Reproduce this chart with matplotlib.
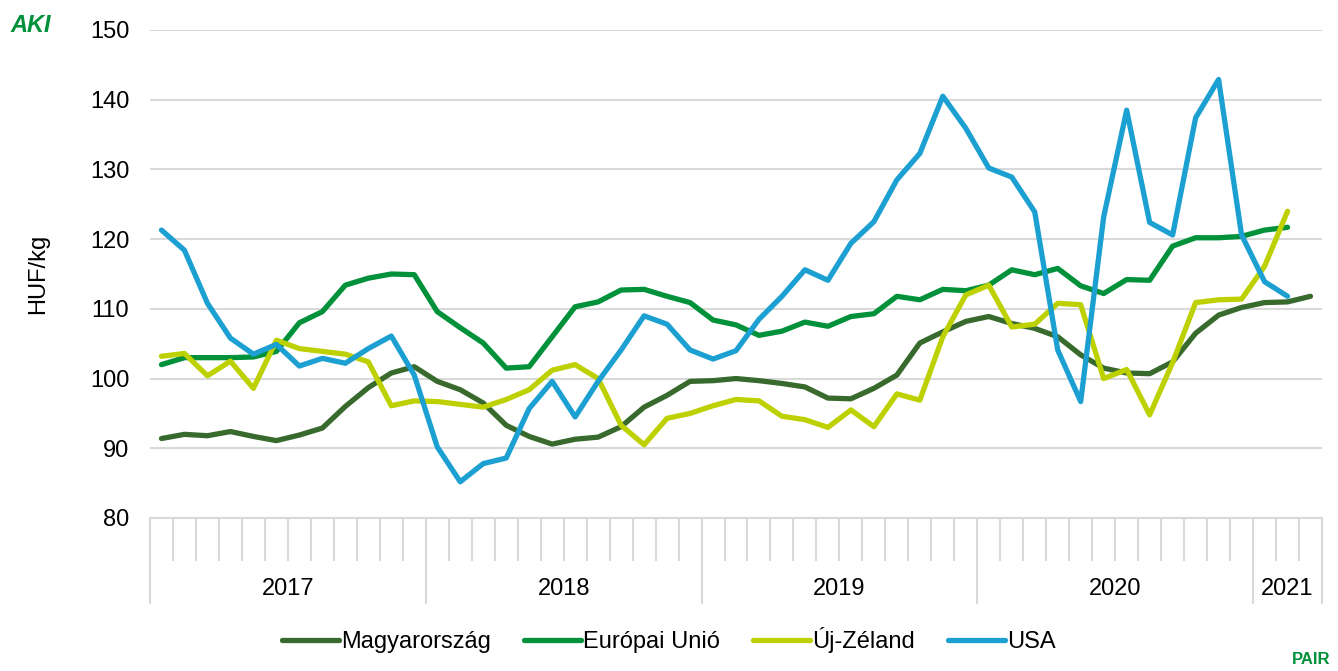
import matplotlib
matplotlib.use("Agg")
import matplotlib.pyplot as plt
import matplotlib.transforms as mtransforms

plt.rcParams['font.family'] = ['Liberation Sans', 'DejaVu Sans']

years = ["2017", "2018", "2019", "2020", "2021"]
months_per_year = [12, 12, 12, 12, 3]

magyarorszag = [91.4, 92.0, 91.8, 92.4, 91.7, 91.1, 91.9, 92.9, 96.0, 98.7,
                100.8, 101.7, 99.6, 98.4, 96.5, 93.3, 91.7, 90.6, 91.3, 91.6,
                93.1, 95.9, 97.6, 99.6, 99.7, 100.0, 99.7, 99.3, 98.8, 97.2,
                97.1, 98.6, 100.5, 105.1, 106.7, 108.2, 108.9, 107.9, 107.2, 106.0,
                103.4, 101.5, 100.8, 100.7, 102.4, 106.5, 109.1, 110.2, 110.9, 111.0,
                111.8]
europai_unio = [102.0, 103.0, 103.0, 103.0, 103.1, 103.9, 108.0, 109.6, 113.4, 114.4,
                115.0, 114.9, 109.6, 107.3, 105.1, 101.5, 101.7, 106.0, 110.3, 111.0,
                112.7, 112.8, 111.8, 110.9, 108.4, 107.7, 106.2, 106.8, 108.1, 107.5,
                108.9, 109.3, 111.8, 111.3, 112.8, 112.6, 113.4, 115.6, 114.9, 115.8,
                113.3, 112.2, 114.2, 114.1, 119.0, 120.2, 120.2, 120.4, 121.3, 121.7]
uj_zeland = [103.2, 103.6, 100.4, 102.5, 98.6, 105.5, 104.3, 103.9, 103.5, 102.4,
             96.1, 96.8, 96.7, 96.3, 95.9, 97.0, 98.4, 101.2, 102.0, 100.0,
             93.3, 90.5, 94.3, 95.0, 96.1, 97.0, 96.8, 94.6, 94.1, 93.0,
             95.5, 93.1, 97.8, 96.9, 106.0, 112.0, 113.4, 107.4, 107.8, 110.8,
             110.6, 100.0, 101.3, 94.8, 102.3, 110.9, 111.3, 111.4, 116.1, 124.0]
usa = [121.3, 118.4, 110.8, 105.8, 103.5, 104.9, 101.8, 102.9, 102.2, 104.3,
       106.1, 100.5, 90.2, 85.2, 87.8, 88.6, 95.7, 99.6, 94.5, 99.6,
       104.1, 109.0, 107.8, 104.1, 102.8, 104.0, 108.5, 111.8, 115.6, 114.1,
       119.4, 122.5, 128.5, 132.3, 140.5, 135.9, 130.2, 128.9, 123.9, 104.1,
       96.7, 123.2, 138.5, 122.4, 120.6, 137.4, 142.9, 120.6, 113.9, 111.8]

series = [("Magyarország", magyarorszag, "#386A2D"),
          ("Európai Unió", europai_unio, "#00913A"),
          ("Új-Zéland", uj_zeland, "#BDD000"),
          ("USA", usa, "#1C9FD1")]

W, H = 1338, 671
fig = plt.figure(figsize=(W / 100, H / 100), dpi=100)
ax = fig.add_axes([150 / W, 1 - 518 / H, (1322 - 150) / W, (518 - 30) / H])

n_months = sum(months_per_year)
for name, vals, col in series:
    xs = [i + 0.5 for i in range(len(vals))]
    ax.plot(xs, vals, color=col, lw=3.8, label=name, solid_capstyle='round',
            solid_joinstyle='round')

FS = 17
ax.set_xlim(0, n_months)
ax.set_ylim(80, 150)
ax.set_yticks(range(80, 151, 10))
ax.tick_params(axis='y', length=0, labelsize=FS, pad=15, colors='#000000')
ax.grid(axis='y', color='#D9D9D9', lw=1.5)
ax.set_axisbelow(True)
for s in ['top', 'right', 'left']:
    ax.spines[s].set_visible(False)
ax.spines['bottom'].set_color('#D9D9D9')
ax.spines['bottom'].set_linewidth(1.5)

# month ticks and year boundaries
boundaries = [0]
for m in months_per_year:
    boundaries.append(boundaries[-1] + m)
ax.set_xticks(boundaries)
ax.set_xticklabels([])
ax.set_xticks(range(0, n_months + 1), minor=True)
ax.tick_params(axis='x', which='major', length=62, width=1.5, color='#D9D9D9')
ax.tick_params(axis='x', which='minor', length=31, width=1.5, color='#D9D9D9')

trans = mtransforms.blended_transform_factory(ax.transData, ax.transAxes)
for k, y in enumerate(years):
    center = (boundaries[k] + boundaries[k + 1]) / 2
    ax.text(center, -0.145, y, transform=trans, ha='center', va='center', fontsize=FS)

ax.set_ylabel("HUF/kg", fontsize=FS)
ax.yaxis.set_label_coords((49 - 150) / (1322 - 150), 0.5)

fig.legend(loc='center', bbox_to_anchor=(0.5, 1 - 640 / H), ncol=4, frameon=False,
           fontsize=FS, handlelength=2.4, handletextpad=0.1, columnspacing=1.4)

# logos
fig.text(10 / W, 1 - 26 / H, "AKI", color="#00913A", fontsize=17, fontweight='bold',
         fontstyle='italic', va='center', ha='left')
fig.text(1330 / W, 1 - 660 / H, "PAIR", color="#00913A", fontsize=12, fontweight='bold',
         va='center', ha='right')

fig.savefig("out.png", dpi=100)
